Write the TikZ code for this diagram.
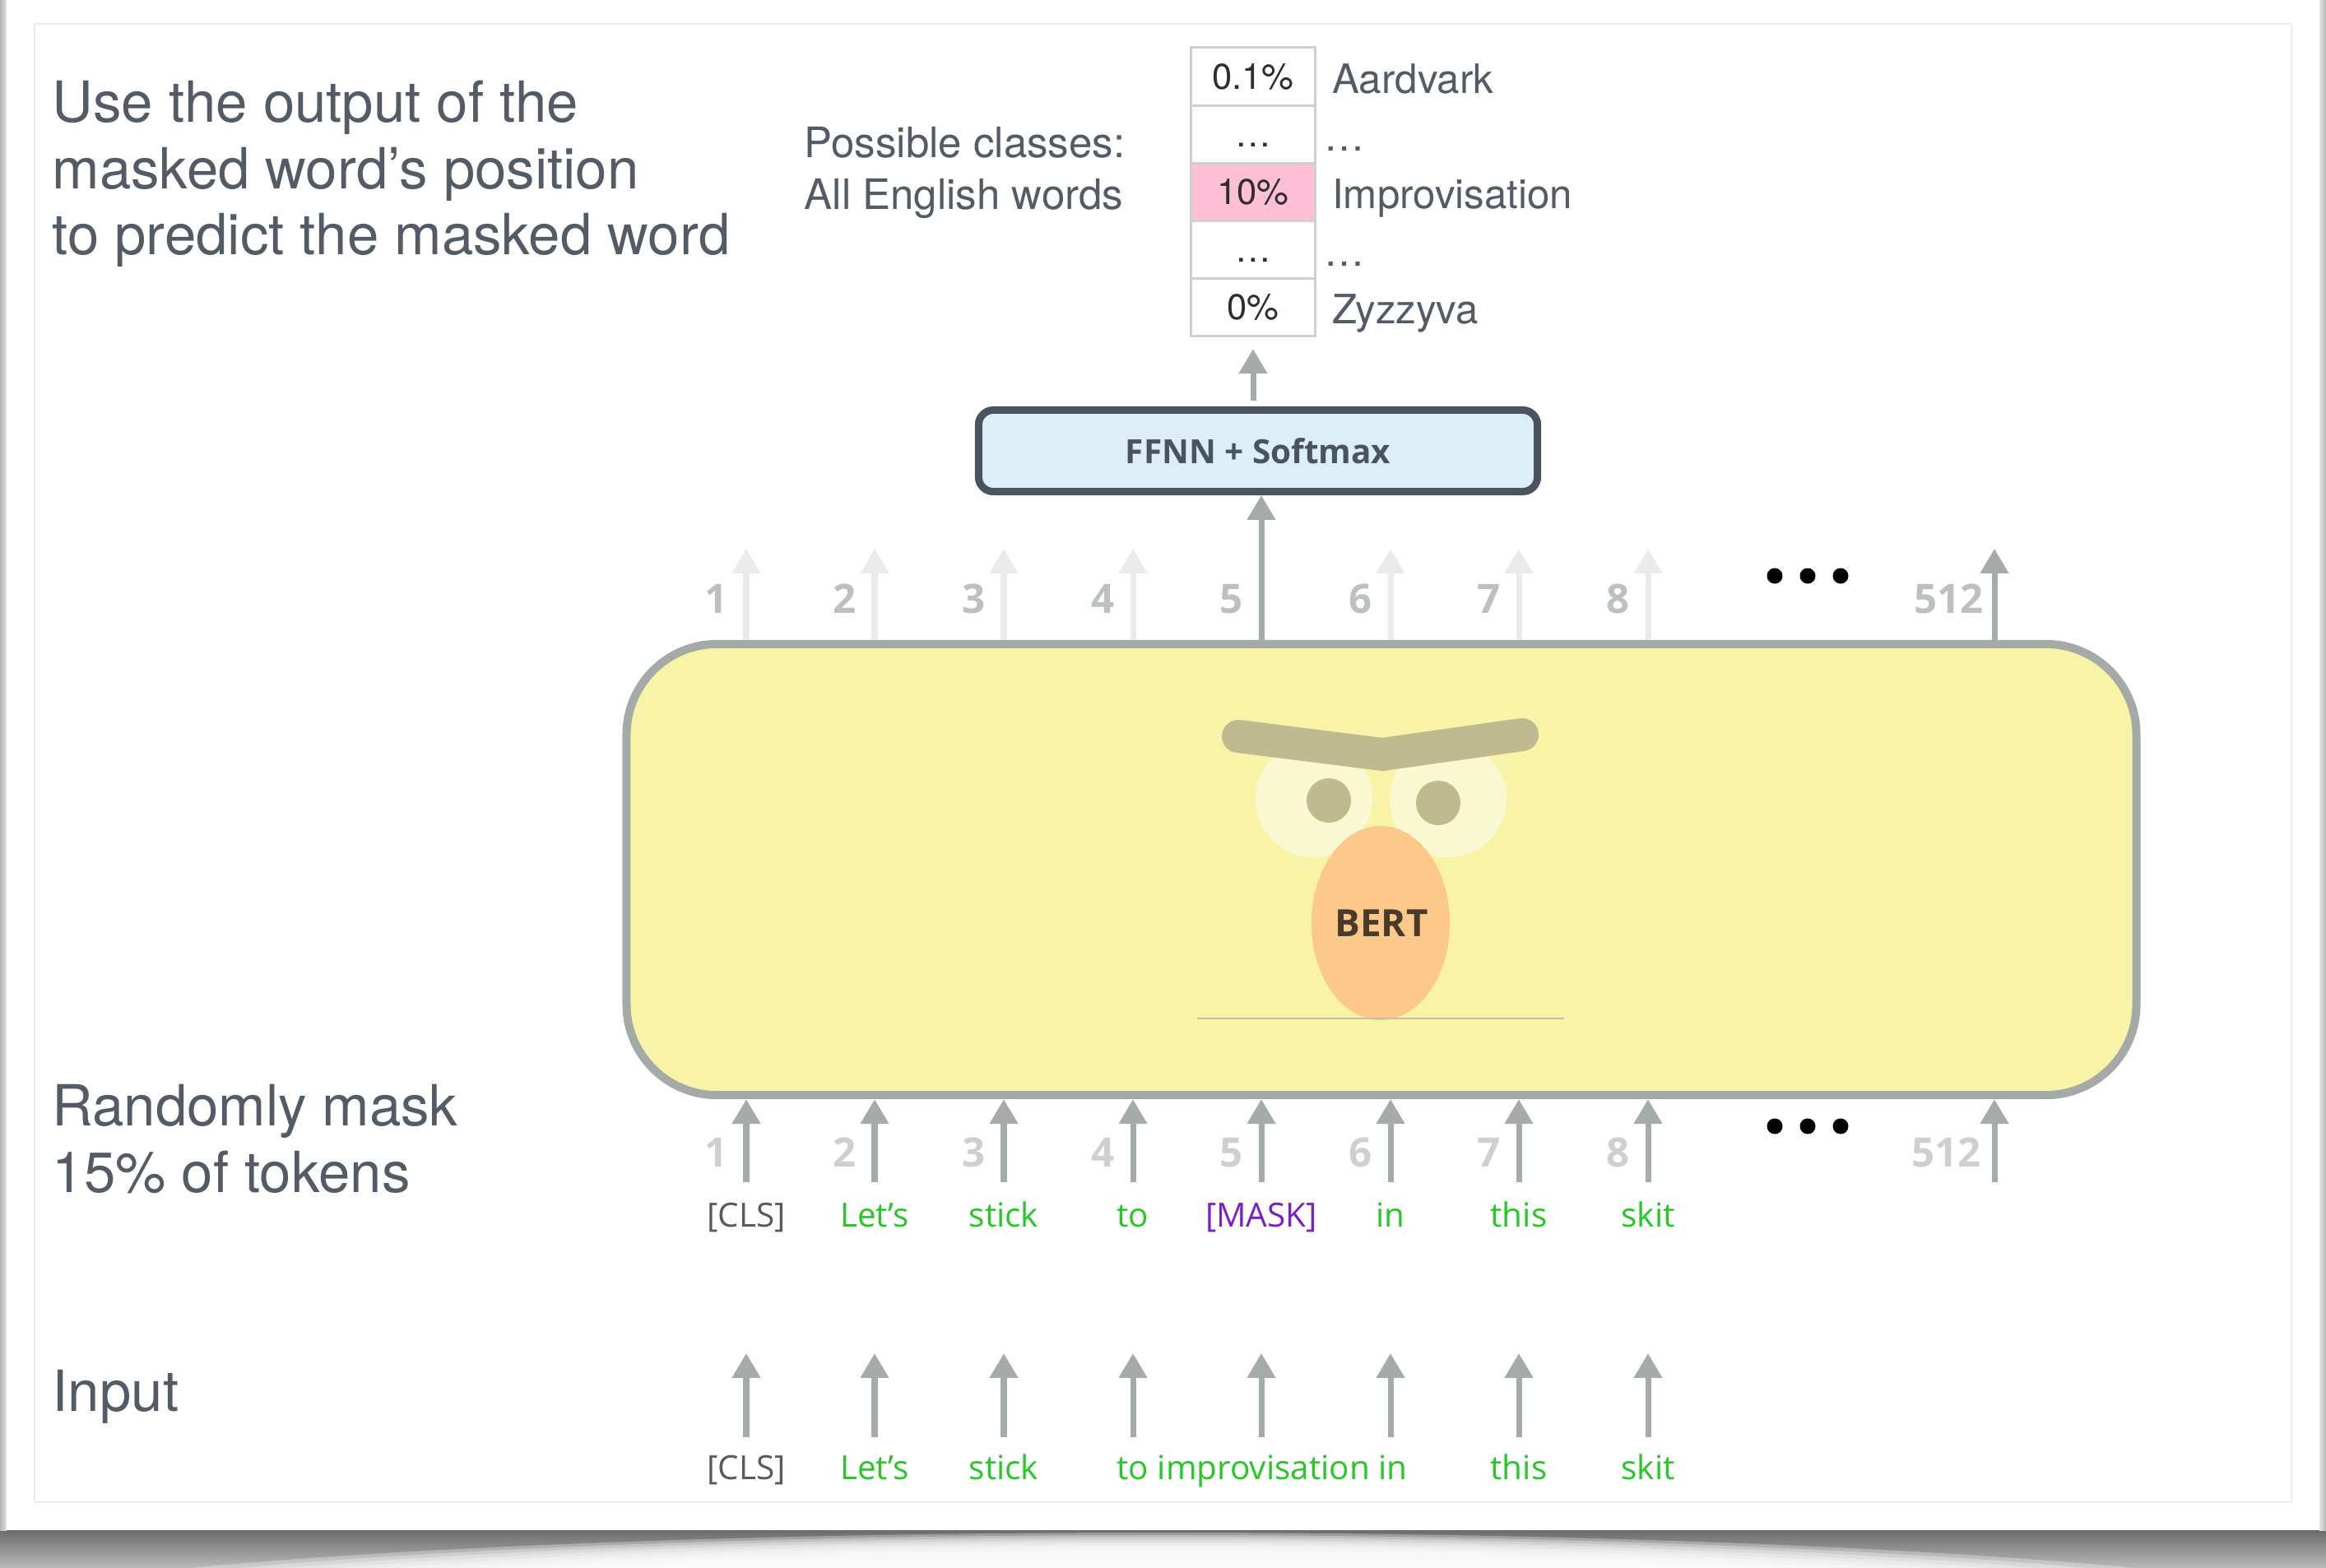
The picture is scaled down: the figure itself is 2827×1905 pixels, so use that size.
\documentclass[tikz,border=0pt]{standalone}
\usepackage{fontspec}
\setmainfont{TeX Gyre Heros}
\newfontfamily\opensans{Open Sans}
\usetikzlibrary{arrows.meta,positioning}

\definecolor{boxfill}{HTML}{F9F3A8}
\definecolor{boxline}{HTML}{A4AAA6}
\definecolor{arrowgray}{HTML}{A5ABA7}
\definecolor{arrowlight}{HTML}{EBEBEB}
\definecolor{numgray}{HTML}{BCC1BE}
\definecolor{ffnnfill}{HTML}{DCEFF9}
\definecolor{ffnnline}{HTML}{4B535F}
\definecolor{notegray}{HTML}{535B66}
\definecolor{tokgreen}{HTML}{25C825}
\definecolor{clsgray}{HTML}{555B63}
\definecolor{maskpurple}{HTML}{7B1FCB}
\definecolor{cellline}{HTML}{CDD1D0}
\definecolor{cellpink}{HTML}{FFBFD6}
\definecolor{celltext}{HTML}{2E2E2E}
\definecolor{browcol}{HTML}{C0BA91}
\definecolor{eyewhite}{HTML}{FAF8D3}
\definecolor{nosecol}{HTML}{FDC98B}
\definecolor{bertink}{HTML}{4A3A2A}
\definecolor{chinline}{HTML}{BDBFB0}

\begin{document}
\begin{tikzpicture}[x=0.01cm,y=-0.01cm,
  darrow/.style={draw=arrowgray,line width=2pt,-{Triangle[width=9.4pt,length=8.5pt]}},
  larrow/.style={darrow,draw=arrowlight},
  note/.style={font=\fontsize{19.6}{23}\selectfont,text=notegray,align=left,inner sep=0pt},
  num/.style={font=\opensans\bfseries\fontsize{14}{17}\selectfont,text=numgray,anchor=base east,inner sep=0pt},
  tok/.style={font=\opensans\fontsize{11.5}{14}\selectfont,text=tokgreen,anchor=base,inner sep=0pt},
  cell/.style={draw=cellline,line width=0.85pt,minimum width=1.51cm,minimum height=0.7cm,inner sep=0pt,outer sep=0pt,text height=0.31cm,text depth=0pt,font=\fontsize{12.4}{15}\selectfont,text=celltext},
  word/.style={font=\fontsize{14}{17}\selectfont,text=notegray,anchor=base west,inner sep=0pt},
  bertbox/.style={draw=boxline,fill=boxfill,line width=2.85pt,rounded corners=1.1cm,minimum width=18.34cm,minimum height=5.48cm},
  ffnnbox/.style={draw=ffnnline,fill=ffnnfill,line width=2.56pt,rounded corners=0.18cm,minimum width=6.79cm,minimum height=0.99cm,text=ffnnline,font=\opensans\bfseries\fontsize{11.5}{14}\selectfont}]

\useasboundingbox (0,0) rectangle (2827,1905);

% sheet with its curled shadow
\begin{scope}
  \clip (0,1860) rectangle (2827,1905);
  \shade[top color=black!58,bottom color=black!28] (0,1860) rectangle (2827,1905);
  \foreach \k in {0,...,7}
    \fill[white,opacity=0.3] (1413,1975) ellipse ({15cm-0.5cm*\k} and {1.12cm-0.03cm*\k});
\end{scope}
\shade[left color=black!30,right color=black!10] (0,0) rectangle (8,1860);
\shade[left color=black!10,right color=black!30] (2819,0) rectangle (2827,1860);
\fill[white] (8,0) rectangle (2819,1860);
\draw[black!7,line width=0.6pt] (42,29) rectangle (2785,1826);

% columns and rows
\foreach \i/\x in {1/907,2/1063,3/1220,4/1377,5/1533,6/1690,7/1846,8/2003,512/2424}
  \coordinate (c\i) at (\x,667);
\coordinate (outbase) at (0,745);
\coordinate (masktail) at (0,1437);
\coordinate (maskbase) at (0,1418);
\coordinate (maskrow) at (0,1491);
\coordinate (intail) at (0,1747);
\coordinate (inhead) at (0,1645);
\coordinate (inrow) at (0,1798);

% notes on the left
\node[note,anchor=north west] (outnote) at (63,97) {Use the output of the\\masked word’s position\\to predict the masked word};
\node[note,anchor=north west] (masknote) at (63,1318) {Randomly mask\\15\% of tokens};
\node[note,anchor=base west] (innote) at (63,1715) {Input};
\node[note,anchor=north west,font=\fontsize{14.5}{17.9}\selectfont] (classes) at (977,154) {Possible classes:\\All English words};

% the model
\node[bertbox] (bert) at (1679,1057) {};
\fill[eyewhite] (1597,971) circle (0.71cm);
\fill[eyewhite] (1760,971) circle (0.71cm);
\fill[browcol] (1615,973) circle (0.27cm);
\fill[browcol] (1748,976) circle (0.27cm);
\draw[browcol,line width=11.4pt,line cap=round] (1505,895) -- (1680,917) -- (1850,893);
\fill[nosecol] (1678,1122) ellipse (0.84cm and 1.18cm);
\node[font=\opensans\bfseries\fontsize{13}{16}\selectfont,text=bertink] (name) at (1679,1122) {BERT};
\draw[chinline,line width=0.6pt] (1455,1238) -- (1901,1238);

\node[ffnnbox] (ffnn) at (1529,548) {FFNN + Softmax};

% output distribution
\node[cell] (p1) at (1523,93) {0.1\%};
\node[cell,below=0pt of p1] (p2) {\dots};
\node[cell,below=0pt of p2,fill=cellpink] (p3) {10\%};
\node[cell,below=0pt of p3] (p4) {\dots};
\node[cell,below=0pt of p4] (p5) {0\%};
\node[word] (w1) at ([xshift=0.2cm,yshift=-0.05cm]p1.base east) {Aardvark};
\node[word] (w2) at ([xshift=0.1cm,yshift=-0.05cm]p2.base east) {\dots};
\node[word] (w3) at ([xshift=0.2cm,yshift=-0.05cm]p3.base east) {Improvisation};
\node[word] (w4) at ([xshift=0.1cm,yshift=-0.05cm]p4.base east) {\dots};
\node[word] (w5) at ([xshift=0.2cm,yshift=-0.05cm]p5.base east) {Zyzzyva};

% arrows out of the model
\foreach \i in {1,2,3,4,6,7,8}
  \draw[larrow] (c\i |- bert.north) -- (c\i);
\draw[darrow] (c512 |- bert.north) -- (c512);
\draw[darrow] (c5 |- bert.north) -- (c5 |- ffnn.south);
\draw[darrow,shorten <=0.07cm] (ffnn.north -| p5.south) -- ([yshift=-0.16cm]p5.south);

% arrows into the model and from the input
\foreach \i in {1,2,3,4,5,6,7,8,512}
  \draw[darrow] (c\i |- masktail) -- (c\i |- bert.south);
\foreach \i in {1,2,3,4,5,6,7,8}
  \draw[darrow] (c\i |- intail) -- (c\i |- inhead);

% position numbers
\foreach \i in {1,2,3,4,5,6,7,8} {
  \node[num,xshift=-0.22cm] (o\i) at (c\i |- outbase) {\i};
  \node[num,xshift=-0.22cm,text=numgray!75] (m\i) at (c\i |- maskbase) {\i};
}
\node[num,xshift=-0.13cm] (o512) at (c512 |- outbase) {512};
\node[num,xshift=-0.16cm,text=numgray!75] (m512) at (c512 |- maskbase) {512};
\foreach \x in {2157,2197,2237} {
  \fill (\x,700) circle (0.095cm);
  \fill (\x,1369) circle (0.095cm);
}

% masked tokens
\node[tok,text=clsgray] (t1) at (c1 |- maskrow) {[CLS]};
\node[tok] (t2) at (c2 |- maskrow) {Let’s};
\node[tok] (t3) at (c3 |- maskrow) {stick};
\node[tok] (t4) at (c4 |- maskrow) {to};
\node[tok,text=maskpurple] (t5) at (c5 |- maskrow) {[MASK]};
\node[tok] (t6) at (c6 |- maskrow) {in};
\node[tok] (t7) at (c7 |- maskrow) {this};
\node[tok] (t8) at (c8 |- maskrow) {skit};

% input tokens
\node[tok,text=clsgray] (s1) at (c1 |- inrow) {[CLS]};
\node[tok] (s2) at (c2 |- inrow) {Let’s};
\node[tok] (s3) at (c3 |- inrow) {stick};
\node[tok,anchor=base west,xshift=-0.2cm] (s4) at (c4 |- inrow) {to improvisation in};
\node[tok] (s7) at (c7 |- inrow) {this};
\node[tok] (s8) at (c8 |- inrow) {skit};

\end{tikzpicture}
\end{document}
